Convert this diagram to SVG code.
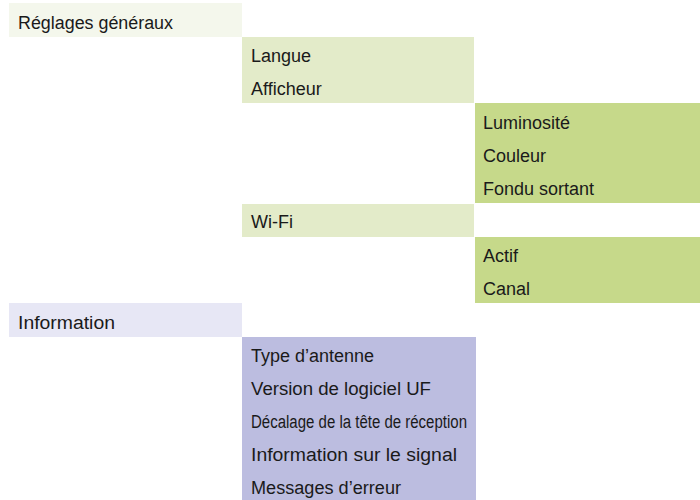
<svg xmlns="http://www.w3.org/2000/svg" width="700" height="500" viewBox="0 0 700 500">
<style>
text{font-family:"Liberation Sans",Arial,sans-serif;font-size:18px;fill:#1a1a1a}
.g0{fill:#f4f7ec}.g1{fill:#e3ebc9}.g2{fill:#c6d98a}.v0{fill:#e7e7f5}.v1{fill:#bcbde0}
</style>
<rect width="700" height="500" fill="#ffffff"/>
<g id="reglages"><rect class="g0" x="9" y="3" width="233" height="34"/><text x="18" y="28.5" textLength="155" lengthAdjust="spacingAndGlyphs">Réglages généraux</text></g>
<g id="affichage"><rect class="g1" x="242" y="37" width="232" height="66"/><text x="251" y="61.5">Langue</text><text x="251" y="94.5">Afficheur</text></g>
<g id="afficheur-sub"><rect class="g2" x="475" y="103" width="225" height="100"/><text x="483" y="128.5">Luminosité</text><text x="483" y="161.5">Couleur</text><text x="483" y="194.5">Fondu sortant</text></g>
<g id="wifi"><rect class="g1" x="242" y="204" width="232" height="33"/><text x="251" y="227.5">Wi-Fi</text></g>
<g id="wifi-sub"><rect class="g2" x="475" y="237" width="225" height="66"/><text x="483" y="261.5">Actif</text><text x="483" y="294.5">Canal</text></g>
<g id="information"><rect class="v0" x="9" y="303" width="233" height="34"/><text x="18" y="328.5" textLength="97" lengthAdjust="spacingAndGlyphs">Information</text></g>
<g id="information-sub"><rect class="v1" x="242" y="337" width="234" height="163"/><text x="251" y="361.5">Type d’antenne</text><text x="251" y="394.5" textLength="180" lengthAdjust="spacingAndGlyphs">Version de logiciel UF</text><text x="251" y="427.5" textLength="216" lengthAdjust="spacingAndGlyphs">Décalage de la tête de réception</text><text x="251" y="460.5" textLength="206" lengthAdjust="spacingAndGlyphs">Information sur le signal</text><text x="251" y="493.5" textLength="150" lengthAdjust="spacingAndGlyphs">Messages d’erreur</text></g>
<g id="connectors"></g>
</svg>
